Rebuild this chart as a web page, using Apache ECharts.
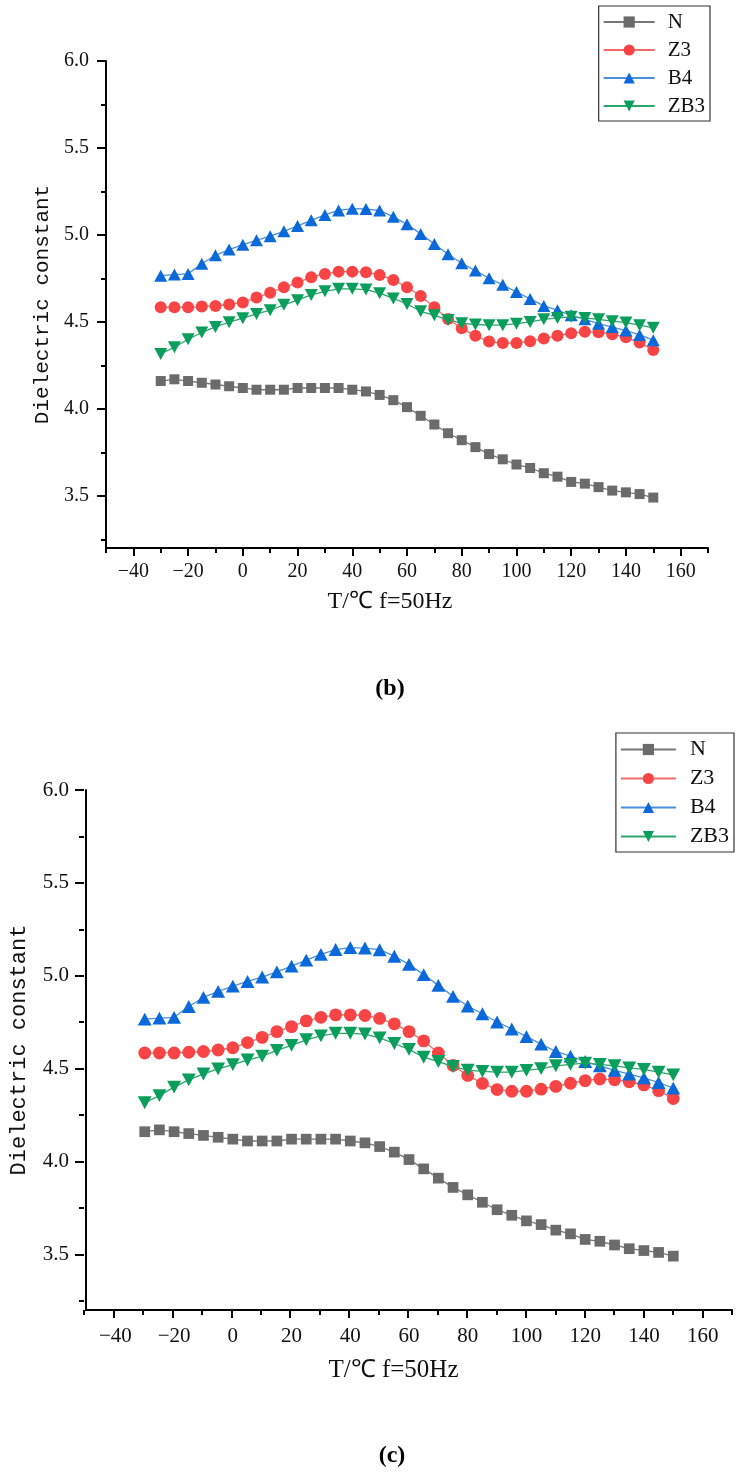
<!DOCTYPE html>
<html>
<head>
<meta charset="utf-8">
<script src="https://cdn.jsdelivr.net/npm/echarts@6/dist/echarts.min.js"></script>
<style>
html,body{margin:0;padding:0;background:#fff;}
#chart{width:740px;height:1478px;}
</style>
</head>
<body>
<div id="chart"></div>
<script>
// Temperature (°C), f = 50 Hz
const temps = [-30,-25,-20,-15,-10,-5,0,5,10,15,20,25,30,35,40,45,50,55,60,65,70,75,80,85,90,95,100,105,110,115,120,125,130,135,140,145,150];
const seriesNames = ['N','Z3','B4','ZB3'];
const valN   = [4.16,4.17,4.16,4.15,4.14,4.13,4.12,4.11,4.11,4.11,4.12,4.12,4.12,4.12,4.11,4.10,4.08,4.05,4.01,3.96,3.91,3.86,3.82,3.78,3.74,3.71,3.68,3.66,3.63,3.61,3.58,3.57,3.55,3.53,3.52,3.51,3.49];
const valZ3  = [4.584,4.584,4.584,4.588,4.592,4.600,4.612,4.640,4.668,4.699,4.726,4.757,4.776,4.789,4.789,4.786,4.770,4.741,4.699,4.649,4.584,4.517,4.463,4.420,4.387,4.378,4.378,4.389,4.404,4.421,4.435,4.444,4.440,4.429,4.412,4.381,4.339];
const valB4  = [4.766,4.772,4.776,4.834,4.883,4.916,4.944,4.969,4.993,5.021,5.052,5.084,5.115,5.141,5.151,5.149,5.140,5.105,5.061,5.006,4.948,4.889,4.837,4.795,4.751,4.713,4.672,4.632,4.592,4.567,4.538,4.515,4.490,4.470,4.450,4.425,4.395];
const valZB3 = [4.316,4.354,4.400,4.439,4.471,4.498,4.521,4.546,4.567,4.598,4.625,4.655,4.676,4.690,4.690,4.686,4.665,4.635,4.603,4.561,4.538,4.511,4.492,4.485,4.481,4.481,4.490,4.500,4.515,4.523,4.529,4.523,4.515,4.504,4.496,4.481,4.466];
// axis ranges, tick labels and tick steps
const xRange = [-50, 170];
const xLabels = [-40,-20,0,20,40,60,80,100,120,140,160];
const xMajorRange = [-40, 160], xMajorStep = 20, xMinorStep = 10;
const yRange = [3.2, 6.0];
const yLabels = [3.5,4.0,4.5,5.0,5.5,6.0];
const yMajorRange = [3.5, 6.0], yMajorStep = 0.5;
const yMinorRange = [3.25, 6.0], yMinorStep = 0.25;
const xTitle = 'T/℃ f=50Hz';
const yTitle = 'Dielectric constant';
const panelLabels = ['(b)','(c)'];

const allValues = [valN, valZ3, valB4, valZB3];
const styles = [
  {symbol:'rect', color:'#6b6b6b', line:'#777777', size:[10,10]},
  {symbol:'circle', color:'#f84444', line:'#f36a6a', size:[12,12]},
  {symbol:'triangle', color:'#0b69d9', line:'#4b8fe0', size:[13,12]},
  {symbol:'path://M0,0 L10,0 L5,9 Z', color:'#0a9e5c', line:'#2aa56c', size:[13,12]}
];

const W = 740;
const panels = [
  {left:106, top:61, right:32, height:487, s:1.0, legend:{right:30, top:6, itemWidth:51, textPad:8, gap:6, fs:21},
   labelFs:20, nameFs:21, xNameFs:24, yNameGap:53, xNameGap:42, xNamePad:34, xLabMargin:14, yLabMargin:17},
  {left:84, top:790, right:8, height:520, s:1.07, legend:{right:6, top:733, itemWidth:55, textPad:9, gap:6, fs:22},
   labelFs:21, nameFs:22, xNameFs:25, yNameGap:56, xNameGap:48, xNamePad:31, xLabMargin:16, yLabMargin:17}
];

const font = 'Liberation Serif';
const grids = [], xAxes = [], yAxes = [], series = [], legends = [];
const lineSt = () => ({color:'#000', width:2});

panels.forEach((p, pi) => {
  const g0 = pi * 5;
  const plotW = W - p.left - p.right;
  const ppuX = plotW / (xRange[1] - xRange[0]);
  const ppuY = p.height / (yRange[1] - yRange[0]);
  // G0: main axes (line, labels, names) + series
  grids.push({left:p.left, top:p.top, width:plotW, height:p.height});
  xAxes.push({type:'value', gridIndex:g0, min:xRange[0], max:xRange[1], position:'bottom',
    axisLine:{show:true, onZero:false, lineStyle:lineSt()},
    axisTick:{show:false}, splitLine:{show:false},
    axisLabel:{show:true, customValues:xLabels, margin:p.xLabMargin, color:'#111', fontFamily:font, fontSize:p.labelFs,
      formatter:v => String(v).replace('-', '\u2212')},
    name:xTitle, nameLocation:'middle', nameGap:p.xNameGap,
    nameTextStyle:{fontFamily:font, fontSize:p.xNameFs, color:'#111', padding:[0,p.xNamePad,0,0]}});
  yAxes.push({type:'value', gridIndex:g0, min:yRange[0], max:yRange[1], position:'left',
    axisLine:{show:true, onZero:false, lineStyle:lineSt()},
    axisTick:{show:false}, splitLine:{show:false},
    axisLabel:{show:true, customValues:yLabels, margin:p.yLabMargin, color:'#111', fontFamily:font, fontSize:p.labelFs,
      formatter:v => v.toFixed(1)},
    name:yTitle, nameLocation:'middle', nameRotate:90, nameGap:p.yNameGap,
    nameTextStyle:{fontFamily:'Liberation Mono', fontSize:p.nameFs, color:'#111'}});
  // G1: x minor ticks
  grids.push({left:p.left, top:p.top, width:plotW, height:p.height});
  xAxes.push({type:'value', gridIndex:g0+1, min:xRange[0], max:xRange[1], interval:xMinorStep, position:'bottom',
    axisLine:{show:false, onZero:false}, splitLine:{show:false}, axisLabel:{show:false},
    axisTick:{show:true, length:5, lineStyle:lineSt()}});
  yAxes.push({type:'value', gridIndex:g0+1, min:yRange[0], max:yRange[1], show:false});
  // G2: y minor ticks
  grids.push({left:p.left, top:p.top + (yRange[1]-yMinorRange[1])*ppuY, width:plotW,
              height:(yMinorRange[1]-yMinorRange[0])*ppuY});
  xAxes.push({type:'value', gridIndex:g0+2, min:xRange[0], max:xRange[1], show:false});
  yAxes.push({type:'value', gridIndex:g0+2, min:yMinorRange[0], max:yMinorRange[1], interval:yMinorStep, position:'left',
    axisLine:{show:false, onZero:false}, splitLine:{show:false}, axisLabel:{show:false},
    axisTick:{show:true, length:5, lineStyle:lineSt()}});
  // G3: x major ticks
  grids.push({left:p.left + (xMajorRange[0]-xRange[0])*ppuX, top:p.top,
              width:(xMajorRange[1]-xMajorRange[0])*ppuX, height:p.height});
  xAxes.push({type:'value', gridIndex:g0+3, min:xMajorRange[0], max:xMajorRange[1], interval:xMajorStep, position:'bottom',
    axisLine:{show:false, onZero:false}, splitLine:{show:false}, axisLabel:{show:false},
    axisTick:{show:true, length:8, lineStyle:lineSt()}});
  yAxes.push({type:'value', gridIndex:g0+3, min:yRange[0], max:yRange[1], show:false});
  // G4: y major ticks
  grids.push({left:p.left, top:p.top + (yRange[1]-yMajorRange[1])*ppuY, width:plotW,
              height:(yMajorRange[1]-yMajorRange[0])*ppuY});
  xAxes.push({type:'value', gridIndex:g0+4, min:xRange[0], max:xRange[1], show:false});
  yAxes.push({type:'value', gridIndex:g0+4, min:yMajorRange[0], max:yMajorRange[1], interval:yMajorStep, position:'left',
    axisLine:{show:false, onZero:false}, splitLine:{show:false}, axisLabel:{show:false},
    axisTick:{show:true, length:9, lineStyle:lineSt()}});

  seriesNames.forEach((nm, si) => {
    const st = styles[si];
    series.push({
      type:'line', name:nm, xAxisIndex:g0, yAxisIndex:g0,
      data: temps.map((t, i) => [t, allValues[si][i]]),
      symbol:st.symbol, symbolSize:[st.size[0]*p.s, st.size[1]*p.s], showAllSymbol:true,
      itemStyle:{color:st.color, opacity:1},
      lineStyle:{color:st.line, width:1.3},
      emphasis:{disabled:true}, z:2+si
    });
  });
  legends.push({
    data:seriesNames, orient:'vertical', right:p.legend.right, top:p.legend.top,
    itemWidth:p.legend.itemWidth, itemHeight:14, itemGap:p.legend.gap,
    padding:[5,5,4,4], borderColor:'#333', borderWidth:1.2, backgroundColor:'#fff',
    textStyle:{fontFamily:font, fontSize:p.legend.fs, color:'#111', padding:[0,0,0,p.legend.textPad], lineHeight:p.legend.fs+1},
    selectedMode:false
  });
});

const chart = echarts.init(document.getElementById('chart'), null, {renderer:'canvas'});
chart.setOption({
  animation:false,
  backgroundColor:'#fff',
  grid:grids, xAxis:xAxes, yAxis:yAxes, series:series, legend:legends,
  graphic:[
    {type:'text', x:390, y:689, style:{text:panelLabels[0], font:'bold 24px "Liberation Serif"', fill:'#000', textAlign:'center', textVerticalAlign:'middle'}},
    {type:'text', x:392, y:1456, style:{text:panelLabels[1], font:'bold 24px "Liberation Serif"', fill:'#000', textAlign:'center', textVerticalAlign:'middle'}}
  ]
});
</script>
</body>
</html>
